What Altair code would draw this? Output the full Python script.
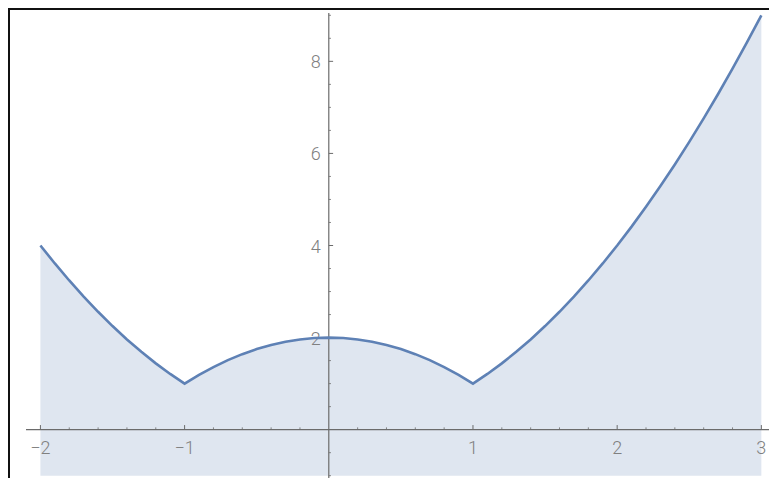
import altair as alt
import pandas as pd

# Curve values
xs = [-2.0, -1.9, -1.8, -1.7, -1.6, -1.5, -1.4, -1.3, -1.2, -1.1, -1.0,
      -0.9, -0.8, -0.7, -0.6, -0.5, -0.4, -0.3, -0.2, -0.1, 0.0,
      0.1, 0.2, 0.3, 0.4, 0.5, 0.6, 0.7, 0.8, 0.9, 1.0,
      1.1, 1.2, 1.3, 1.4, 1.5, 1.6, 1.7, 1.8, 1.9, 2.0,
      2.1, 2.2, 2.3, 2.4, 2.5, 2.6, 2.7, 2.8, 2.9, 3.0]
ys = [4.0, 3.61, 3.24, 2.89, 2.56, 2.25, 1.96, 1.69, 1.44, 1.21, 1.0,
      1.19, 1.36, 1.51, 1.64, 1.75, 1.84, 1.91, 1.96, 1.99, 2.0,
      1.99, 1.96, 1.91, 1.84, 1.75, 1.64, 1.51, 1.36, 1.19, 1.0,
      1.21, 1.44, 1.69, 1.96, 2.25, 2.56, 2.89, 3.24, 3.61, 4.0,
      4.41, 4.84, 5.29, 5.76, 6.25, 6.76, 7.29, 7.84, 8.41, 9.0]

x_major = [-2, -1, 1, 2, 3]
x_labels = ["\u22122", "\u22121", "1", "2", "3"]
x_minor = [-1.8, -1.6, -1.4, -1.2, -0.8, -0.6, -0.4, -0.2, 0.2, 0.4, 0.6, 0.8,
           1.2, 1.4, 1.6, 1.8, 2.2, 2.4, 2.6, 2.8]
y_major = [2, 4, 6, 8]
y_labels = ["2", "4", "6", "8"]
y_minor = [-1.0, -0.5, 0.5, 1.0, 1.5, 2.5, 3.0, 3.5, 4.5, 5.0, 5.5, 6.5, 7.0, 7.5, 8.5, 9.0]

X_DOM = [-2.1, 3.053]
Y_DOM = [-1.05, 9.05]
Y_BOTTOM = -1.0

LINE = "#5E81B5"
FILL = "#DFE6F0"
AXIS = "#6b6b6b"
TXT = "#808080"
FONT = "Roboto, Liberation Sans, DejaVu Sans, sans-serif"

xs_scale = alt.Scale(domain=X_DOM, nice=False, zero=False)
ys_scale = alt.Scale(domain=Y_DOM, nice=False, zero=False)

curve = pd.DataFrame({"x": xs, "y": ys, "y0": [Y_BOTTOM] * len(xs)})
xmaj = pd.DataFrame({"x": x_major, "lab": x_labels, "y0": 0.0, "y1": 0.1})
xmin_ = pd.DataFrame({"x": x_minor, "y0": 0.0, "y1": 0.05})
ymaj = pd.DataFrame({"y": y_major, "lab": y_labels, "x0": 0.0, "x1": 0.03})
ymin_ = pd.DataFrame({"y": y_minor, "x0": 0.0, "x1": 0.015})

X = lambda f: alt.X(f, type="quantitative", scale=xs_scale, axis=None)
Y = lambda f: alt.Y(f, type="quantitative", scale=ys_scale, axis=None)

area = alt.Chart(curve).mark_area(color=FILL, opacity=1).encode(
    x=X("x"), y=Y("y"), y2="y0")

axes_df = pd.DataFrame({"x0": [X_DOM[0], 0.0], "x1": [X_DOM[1], 0.0],
                        "y0": [0.0, Y_DOM[0]], "y1": [0.0, 9.05]})
axes = alt.Chart(axes_df).mark_rule(color=AXIS, strokeWidth=1.2).encode(
    x=X("x0"), x2="x1", y=Y("y0"), y2="y1")

xt_major = alt.Chart(xmaj).mark_rule(color=AXIS, strokeWidth=1).encode(
    x=X("x"), y=Y("y0"), y2="y1")
xt_minor = alt.Chart(xmin_).mark_rule(color=AXIS, strokeWidth=0.8).encode(
    x=X("x"), y=Y("y0"), y2="y1")
yt_major = alt.Chart(ymaj).mark_rule(color=AXIS, strokeWidth=1).encode(
    y=Y("y"), x=X("x0"), x2="x1")
yt_minor = alt.Chart(ymin_).mark_rule(color=AXIS, strokeWidth=0.8).encode(
    y=Y("y"), x=X("x0"), x2="x1")

x_text = alt.Chart(xmaj).mark_text(
    font=FONT, fontSize=18, fontWeight=300, color=TXT, baseline="middle", align="center", dy=19
).encode(x=X("x"), y=Y("y0"), text="lab")
y_text = alt.Chart(ymaj).mark_text(
    font=FONT, fontSize=18, fontWeight=300, color=TXT, baseline="middle", align="right", dx=-8, dy=2
).encode(x=X("x0"), y=Y("y"), text="lab")

line = alt.Chart(curve).mark_line(color=LINE, strokeWidth=2.6).encode(
    x=X("x"), y=Y("y"))

frame_left = alt.Chart(pd.DataFrame({"a": [0]})).mark_rule(color="#111111", strokeWidth=2).encode(
    x=alt.value(-17), y=alt.value(-5), y2=alt.value(476))
frame_top = alt.Chart(pd.DataFrame({"a": [0]})).mark_rule(color="#111111", strokeWidth=2).encode(
    y=alt.value(-4), x=alt.value(-18), x2=alt.value(743))

chart = alt.layer(
    area, axes, xt_minor, xt_major, yt_minor, yt_major, x_text, y_text, line,
    frame_left, frame_top
).properties(
    width=743, height=465,
    autosize=alt.AutoSizeParams(type="none"),
    padding={"left": 18, "top": 5, "right": 0, "bottom": 0},
).configure_view(stroke=None)

chart.save("out.html", embed_options={"renderer": "svg", "actions": False})
